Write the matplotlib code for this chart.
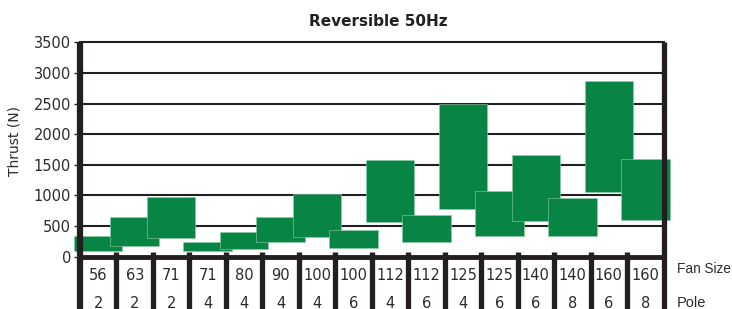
import matplotlib
matplotlib.use('Agg')
import matplotlib.pyplot as plt
import numpy as np

# data
fan_sizes = ['56', '63', '71', '71', '80', '90', '100', '100',
             '112', '112', '125', '125', '140', '140', '160', '160']
poles = ['2', '2', '2', '4', '4', '4', '4', '6',
         '4', '6', '4', '6', '6', '8', '6', '8']
thrust_min = [95, 175, 300, 85, 120, 235, 320, 140,
              565, 240, 775, 345, 580, 330, 1050, 600]
thrust_max = [330, 645, 970, 235, 410, 650, 1020, 440,
              1580, 680, 2500, 1075, 1665, 955, 2865, 1600]
y_ticks = [0, 500, 1000, 1500, 2000, 2500, 3000, 3500]

GREEN = '#088544'
DARK = '#231f20'
TEXT = '#2b2b2b'

W, H = 732, 309
fig = plt.figure(figsize=(W / 100, H / 100), dpi=100)
ax = fig.add_axes([80 / W, (H - 256.7) / H, 583.5 / W, 214.4 / H])

n = len(fan_sizes)
x = np.arange(n) + 0.5
lo = np.array(thrust_min)
hi = np.array(thrust_max)

ax.bar(x, hi - lo, bottom=lo, width=1.33, color=GREEN,
       edgecolor='#8fcfa9', linewidth=0.4, clip_on=False, zorder=3)

ax.set_xlim(0, n)
ax.set_ylim(0, 3500)
ax.set_yticks(y_ticks)
ax.set_xticks([])
ax.tick_params(axis='y', length=4, width=1, color=DARK, pad=2.5,
               labelsize=10.5, labelcolor=TEXT)

for s in ['top', 'right', 'left', 'bottom']:
    ax.spines[s].set_visible(False)

# horizontal grid lines
for t in y_ticks[1:]:
    ax.axhline(t, color=DARK, lw=1.5, zorder=1, clip_on=False)
ax.axhline(0, color=DARK, lw=3.5, zorder=5, clip_on=False)

# vertical rules: spines and table separators, running down through the table
tr = ax.get_xaxis_transform()
ax.plot([0, 0], [-0.3, 1.0], color=DARK, lw=4.5, transform=tr,
        clip_on=False, zorder=6, solid_capstyle='butt')
ax.plot([n, n], [-0.3, 1.0], color=DARK, lw=3.8, transform=tr,
        clip_on=False, zorder=6, solid_capstyle='butt')
for i in range(1, n):
    ax.plot([i, i], [-0.3, 0.0205], color=DARK, lw=3.8, transform=tr,
            clip_on=False, zorder=6, solid_capstyle='butt')

# table text
for xi, fs, p in zip(x, fan_sizes, poles):
    ax.text(xi, -0.09, fs, transform=tr, ha='center', va='center',
            fontsize=10.5, color=TEXT)
    ax.text(xi, -0.216, p, transform=tr, ha='center', va='center',
            fontsize=10.5, color=TEXT)
ax.text(n + 0.36, -0.057, 'Fan Size', transform=tr, ha='left', va='center',
        fontsize=9.8, color=TEXT, family=['Liberation Sans', 'DejaVu Sans'])
ax.text(n + 0.36, -0.214, 'Pole', transform=tr, ha='left', va='center',
        fontsize=10.5, color=TEXT, family=['Liberation Sans', 'DejaVu Sans'])

fig.text(378 / W, 1 - 22 / H, 'Reversible 50Hz', ha='center', va='center',
         fontsize=11, fontweight='bold', color=DARK)
fig.text(15 / W, 1 - 141 / H, 'Thrust (N)', rotation=90, ha='center',
         va='center', fontsize=10, color=TEXT)

fig.savefig('out.png', dpi=100)
